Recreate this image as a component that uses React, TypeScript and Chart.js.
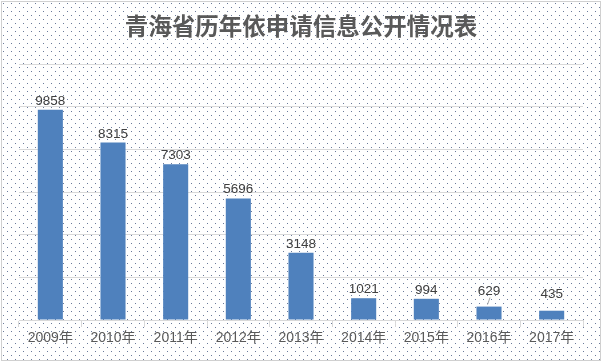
import React, { useEffect, useRef } from 'react';
import { Chart, registerables } from 'chart.js';

Chart.register(...registerables);

const TITLE = '青海省历年依申请信息公开情况表';
const years = ['2009年', '2010年', '2011年', '2012年', '2013年', '2014年', '2015年', '2016年', '2017年'];
const requests = [9858, 8315, 7303, 5696, 3148, 1021, 994, 629, 435];
const yMin = 0;
const yMax = 12000;
const yStep = 2000;

const LATIN_CJK = '"Liberation Sans", "Noto Sans CJK SC", sans-serif';

const backgroundPlugin = {
  id: 'dottedBackground',
  beforeDraw(chart: any) {
    const ctx = chart.ctx as CanvasRenderingContext2D;
    const pc = document.createElement('canvas');
    pc.width = 8;
    pc.height = 8;
    const p = pc.getContext('2d')!;
    p.fillStyle = '#ffffff';
    p.fillRect(0, 0, 8, 8);
    p.fillStyle = '#6a7a9a';
    p.fillRect(3, 3, 1, 1);
    p.fillRect(7, 7, 1, 1);
    const pattern = ctx.createPattern(pc, 'repeat')!;
    ctx.save();
    ctx.fillStyle = '#ffffff';
    ctx.fillRect(0, 0, chart.width, chart.height);
    ctx.fillStyle = pattern;
    ctx.fillRect(1, 1, chart.width - 3, chart.height - 3);
    ctx.strokeStyle = '#d0d0d0';
    ctx.lineWidth = 1;
    ctx.strokeRect(1.5, 1.5, chart.width - 3, chart.height - 3);
    // title
    ctx.fillStyle = '#595959';
    ctx.font = 'bold 23.5px "Noto Sans CJK SC", sans-serif';
    ctx.textAlign = 'center';
    ctx.textBaseline = 'middle';
    ctx.fillText(TITLE, chart.width / 2, 26);
    ctx.restore();
  },
};

const labelPlugin = {
  id: 'valueLabels',
  afterDatasetsDraw(chart: any) {
    const ctx = chart.ctx as CanvasRenderingContext2D;
    const meta = chart.getDatasetMeta(0);
    const lift: Record<number, number> = { 7: 7, 8: 8 };
    ctx.save();
    ctx.font = '13.5px ' + LATIN_CJK;
    ctx.fillStyle = '#404040';
    ctx.textAlign = 'center';
    ctx.textBaseline = 'alphabetic';
    meta.data.forEach((bar: any, i: number) => {
      const extra = lift[i] || 0;
      ctx.fillText(String(chart.data.datasets[0].data[i]), bar.x, bar.y - 5 - extra);
      if (i === 7) {
        ctx.strokeStyle = '#a6a6a6';
        ctx.lineWidth = 1;
        ctx.beginPath();
        ctx.moveTo(bar.x - 1.5, bar.y - 2);
        ctx.lineTo(bar.x + 1, bar.y - 9);
        ctx.stroke();
      }
    });
    ctx.restore();
  },
};

export default function App() {
  const ref = useRef<HTMLCanvasElement | null>(null);

  useEffect(() => {
    if (!ref.current) return;
    const chart = new Chart(ref.current, {
      type: 'bar',
      data: {
        labels: years,
        datasets: [
          {
            data: requests,
            backgroundColor: '#4F81BD',
            borderWidth: 0,
            categoryPercentage: 1,
            barPercentage: 0.4,
          },
        ],
      },
      options: {
        responsive: false,
        animation: false,
        events: [],
        layout: { padding: { left: 19, right: 19, top: 64, bottom: 0 } },
        plugins: {
          legend: { display: false },
          title: { display: false },
          tooltip: { enabled: false },
        },
        scales: {
          x: {
            type: 'category',
            offset: true,
            grid: {
              display: true,
              drawOnChartArea: false,
              drawTicks: true,
              tickLength: 7,
              color: '#d9d9d9',
              offset: true,
            },
            border: { display: true, color: '#d9d9d9' },
            ticks: {
              color: '#595959',
              font: { family: LATIN_CJK, size: 14 },
              padding: 3,
              maxRotation: 0,
              autoSkip: false,
            },
            afterFit(scale: any) {
              scale.height = 42;
            },
          },
          y: {
            min: yMin,
            max: yMax,
            ticks: { display: false, stepSize: yStep },
            grid: { color: '#d9d9d9', drawTicks: false },
            border: { display: false },
            afterFit(scale: any) {
              scale.width = 0;
            },
          },
        },
      },
      plugins: [backgroundPlugin, labelPlugin],
    } as any);
    return () => chart.destroy();
  }, []);

  return (
    <div style={{ position: 'absolute', left: 0, top: 0, width: 602, height: 362 }}>
      <canvas ref={ref} width={602} height={362} style={{ display: 'block' }} />
    </div>
  );
}
